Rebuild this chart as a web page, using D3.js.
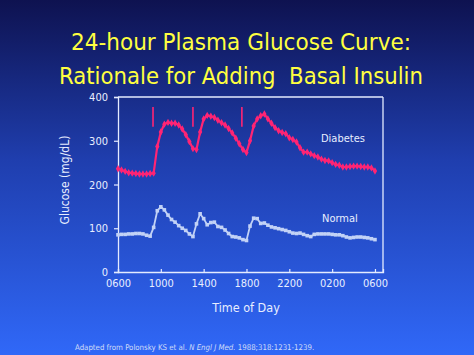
<!DOCTYPE html>
<html>
<head>
<meta charset="utf-8">
<script src="https://cdn.jsdelivr.net/npm/d3@7"></script>
<style>
  html, body { margin: 0; padding: 0; background: #1a2f90; }
  svg { display: block; }
  text { font-family: "DejaVu Sans Condensed", "DejaVu Sans", sans-serif; }
  text.title { white-space: pre; }
</style>
</head>
<body>
<svg id="chart" width="474" height="355"></svg>
<script>
// ---- data ----
const hours = [0,0.33,0.67,1,1.33,1.67,2,2.33,2.67,3,3.33,3.67,4,4.33,4.67,5,5.33,5.67,6,6.33,6.67,7,7.33,7.67,8,8.33,8.67,9,9.33,9.67,10,10.33,10.67,11,11.33,11.67,12,12.33,12.67,13,13.33,13.67,14,14.33,14.67,15,15.33,15.67,16,16.33,16.67,17,17.33,17.67,18,18.33,18.67,19,19.33,19.67,20,20.33,20.67,21,21.33,21.67,22,22.33,22.67,23,23.33,23.67,24];
const diabetes = [236,233,230,227,226,225,224,224,224,225,226,287,320,338,342,340,340,336,327,314,298,282,280,320,350,358,356,353,347,341,336,328,318,306,293,280,273,300,334,350,357,361,350,340,330,323,319,316,307,303,297,284,274,274,270,266,263,258,255,254,250,246,244,240,240,241,242,242,241,240,240,238,231];
const normal = [85,86,86,87,87,88,88,87,84,82,102,140,149,142,130,120,114,106,100,95,87,81,110,133,122,108,113,114,104,102,96,88,81,80,78,74,72,105,123,122,111,112,107,103,101,99,97,95,92,89,88,89,86,83,81,86,87,87,87,87,86,85,85,83,80,78,79,80,80,79,78,76,74];
const mealTimes = [3.27, 7.0, 11.57];
const xTickHours = [0,4,8,12,16,20,24];
const xTickLabels = ["0600","1000","1400","1800","2200","0200","0600"];
const yTicks = [0,100,200,300,400];
const titleLines = ["24-hour Plasma Glucose Curve:", "Rationale for Adding  Basal Insulin"];

// ---- drawing ----
(function () {
const svg = d3.select("#chart");
const W = 474, H = 355;

const defs = svg.append("defs");
const grad = defs.append("linearGradient").attr("id","bg").attr("x1",0).attr("y1",0).attr("x2",0).attr("y2",1);
grad.append("stop").attr("offset","0%").attr("stop-color","#0e1250");
grad.append("stop").attr("offset","45%").attr("stop-color","#1f3eae");
grad.append("stop").attr("offset","100%").attr("stop-color","#3068f8");
svg.append("rect").attr("width",W).attr("height",H).attr("fill","url(#bg)");

const mL = 118, mR = 383, mT = 97, mB = 272;
const x = d3.scaleLinear().domain([0, 24.75]).range([mL, mR]);
const y = d3.scaleLinear().domain([0, 400]).range([mB, mT]);

const axisColor = "#e4ebff";
const textColor = "#e8eeff";

// Title
svg.selectAll("text.title").data(titleLines).join("text")
  .attr("class","title")
  .attr("xml:space","preserve")
  .attr("x", 241).attr("y", (d,i) => i === 0 ? 50 : 83.5)
  .attr("text-anchor","middle")
  .attr("font-size", 23)
  .attr("fill", "#ffff40")
  .attr("textLength", (d,i) => i === 0 ? 340 : 364)
  .attr("lengthAdjust","spacingAndGlyphs")
  .text(d => d);

// frame
const frame = svg.append("g");
frame.append("line").attr("x1",mL).attr("x2",mR).attr("y1",mT).attr("y2",mT);
frame.append("line").attr("x1",mR).attr("x2",mR).attr("y1",mT).attr("y2",mB);
frame.selectAll("line").attr("stroke",axisColor).attr("stroke-width",1.3);

// y axis
const yAxis = svg.append("g").attr("transform",`translate(${mL},0)`)
  .call(d3.axisLeft(y).tickValues(yTicks).tickSize(4).tickPadding(6).tickFormat(d3.format("d")));
yAxis.select(".domain").attr("stroke",axisColor).attr("stroke-width",1.3);
yAxis.selectAll(".tick line").attr("stroke",axisColor).attr("stroke-width",1.2);
yAxis.selectAll(".tick text").attr("fill",textColor).attr("font-size",11)
  .attr("font-family","DejaVu Sans Condensed, DejaVu Sans, sans-serif");

// x axis (ticks pointing inward)
const xAxis = svg.append("g").attr("transform",`translate(0,${mB})`)
  .call(d3.axisBottom(x).tickValues(xTickHours).tickSize(-3).tickPadding(7)
    .tickFormat((d,i) => xTickLabels[i]));
xAxis.select(".domain").attr("stroke",axisColor).attr("stroke-width",1.3);
xAxis.selectAll(".tick line").attr("stroke",axisColor).attr("stroke-width",1.2);
xAxis.selectAll(".tick text").attr("fill",textColor).attr("font-size",11)
  .attr("font-family","DejaVu Sans Condensed, DejaVu Sans, sans-serif");

// axis titles
svg.append("text").attr("x", 246).attr("y", 312).attr("text-anchor","middle")
  .attr("font-size", 12.5).attr("fill", textColor).text("Time of Day");
svg.append("text").attr("transform","translate(69,180) rotate(-90)").attr("text-anchor","middle")
  .attr("font-size", 12).attr("fill", textColor).text("Glucose (mg/dL)");

// series
const diaColor = "#ff2474", normColor = "#c2d2f6";
const line = d3.line().x(d => x(d[0])).y(d => y(d[1]));
const diaData = hours.map((h,i) => [h, diabetes[i]]);
const normData = hours.map((h,i) => [h, normal[i]]);

svg.append("path").datum(normData).attr("d", line).attr("fill","none")
  .attr("stroke", normColor).attr("stroke-width", 1.8);
svg.append("g").selectAll("rect").data(normData).join("rect")
  .attr("x", d => x(d[0]) - 1.8).attr("y", d => y(d[1]) - 1.8)
  .attr("width", 3.6).attr("height", 3.6).attr("fill", normColor);

svg.append("path").datum(diaData).attr("d", line).attr("fill","none")
  .attr("stroke", diaColor).attr("stroke-width", 2.2);
svg.append("g").selectAll("path").data(diaData).join("path")
  .attr("d", d3.symbol().type(d3.symbolDiamond).size(16))
  .attr("transform", d => `translate(${x(d[0])},${y(d[1])})`)
  .attr("fill", diaColor);

// meal markers
svg.append("g").selectAll("line").data(mealTimes).join("line")
  .attr("x1", d => x(d)).attr("x2", d => x(d))
  .attr("y1", y(377)).attr("y2", y(332))
  .attr("stroke", diaColor).attr("stroke-width", 1.6);

// series labels
svg.append("text").attr("x", 321).attr("y", 142).attr("font-size", 11)
  .attr("fill", textColor).text("Diabetes");
svg.append("text").attr("x", 322).attr("y", 222).attr("font-size", 11)
  .attr("fill", textColor).text("Normal");

// footnote
const foot = svg.append("text").attr("x", 75).attr("y", 350).attr("font-size", 7.8).attr("fill", "#d0dcf8");
foot.append("tspan").text("Adapted from Polonsky KS et al. ");
foot.append("tspan").attr("font-style","italic").text("N Engl J Med.");
foot.append("tspan").text(" 1988;318:1231-1239.");
})();
</script>
</body>
</html>
